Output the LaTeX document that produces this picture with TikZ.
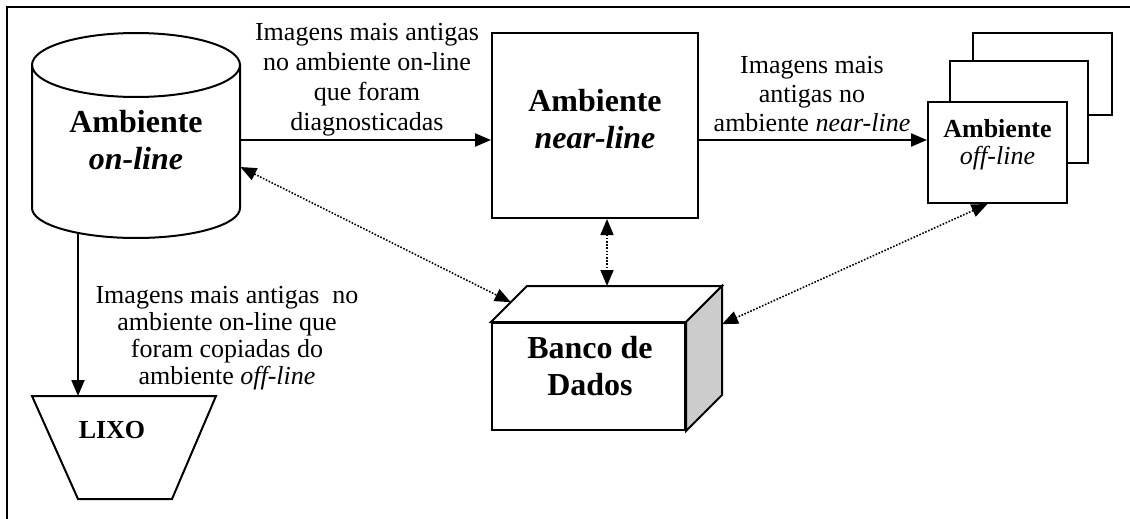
\documentclass[tikz,border=0pt]{standalone}
\usepackage{fontspec}
\setmainfont{Liberation Serif}
\usetikzlibrary{arrows.meta, positioning, calc}

\tikzset{
  box/.style={draw, line width=1pt, fill=white, inner sep=0pt},
  flow/.style={line width=1pt, -{Triangle[length=8pt,width=6.5pt]}},
  link/.style={line width=0.8pt, dash pattern=on 0.8pt off 0.8pt,
    {Triangle[length=8pt,width=6.5pt]}-{Triangle[length=8pt,width=6.5pt]}},
  note/.style={align=center, font=\fontsize{13}{14.5}\selectfont},
  big/.style={align=center, font=\fontsize{16}{18.5}\selectfont\bfseries},
}

\begin{document}
\begin{tikzpicture}[x=0.5pt, y=-0.5pt]
  \useasboundingbox (0,0) rectangle (1130,519);
  % frame
  \draw[line width=1pt] (7,519) -- (7,7) -- (1130,7);
  % on-line cylinder
  \draw[line width=1pt, fill=white] (32,65) -- (32,208)
    arc[start angle=180, end angle=360, x radius=52pt, y radius=15pt] -- (240,65);
  \draw[line width=1pt] (136,65) ellipse [x radius=52pt, y radius=16pt];
  \node[big, minimum width=104pt, inner sep=0pt] (online) at (136,140) {Ambiente\\\itshape on-line};
  \coordinate (onlinebase) at (78,233);
  % near-line
  \node[box, minimum width=103pt, minimum height=92.5pt] (nearline) at (595,125.5) {};
  \node[big] (nearlinetxt) at (595,119.5) {Ambiente\\\itshape near-line};
  % off-line stack
  \node[box, minimum width=69.5pt, minimum height=41pt] (offback) at (1042.5,74) {};
  \node[box, minimum width=69pt, minimum height=51pt] (offmid) at (1019,112) {};
  \node[box, minimum width=69.5pt, minimum height=50.5pt] (offfront) at (997.5,152.5) {};
  \node[align=center, font=\fontsize{13}{13.5}\selectfont] (offtxt) at (997.5,144.5) {\bfseries Ambiente\\\itshape off-line};
  % banco de dados
  \node[box, minimum width=96.5pt, minimum height=53.5pt] (dbfront) at (588.5,376.5) {};
  \coordinate (dbtl) at ($(dbfront.north west)+(36,-36)$);
  \coordinate (dbtr) at ($(dbfront.north east)+(36,-36)$);
  \coordinate (dbbr) at ($(dbfront.south east)+(36,-36)$);
  \draw[line width=1pt, fill=white] (dbfront.north west) -- (dbtl) -- (dbtr) -- (dbfront.north east) -- cycle;
  \draw[line width=1pt, fill=black!20] (dbfront.north east) -- (dbtr) -- (dbbr) -- (dbfront.south east) -- cycle;
  \node[big] (dbtxt) at (590,366) {Banco de\\Dados};
  % lixo
  \draw[line width=1pt] (32,396) -- (216,396) -- (172,499) -- (78,499) -- cycle;
  \node[font=\fontsize{13}{14}\selectfont\bfseries] (lixo) at (112,430) {LIXO};
  \coordinate (lixotop) at (78,396);
  % connectors
  \draw[flow] (online.east) -- (online.east -| nearline.west);
  \draw[flow] (nearline.east |- online.east) -- (offfront.west |- online.east);
  \draw[flow] (onlinebase) -- (lixotop);
  \draw[link] ([xshift=6pt]nearline.south) -- ([xshift=6pt]nearline.south |- dbtl);
  \draw[link] ([yshift=-13.5pt]online.east) -- ($(dbfront.north west)!0.55!(dbtl)$);
  \draw[link] ([xshift=-5pt]offfront.south) -- ($(dbtr)!0.35!(dbbr)$);
  % labels
  \node[note, font=\fontsize{13}{15}\selectfont] (lbl1) at (367,80) {Imagens mais antigas\\no ambiente on-line\\que foram\\diagnosticadas};
  \node[note] (lbl2) at (812,94) {Imagens mais\\antigas no\\ambiente \textit{near-line}};
  \node[note, font=\fontsize{13}{13.5}\selectfont] (lbl3) at (227,338) {Imagens mais antigas\ \ no\\ambiente on-line que\\foram copiadas do\\ambiente \textit{off-line}};
\end{tikzpicture}
\end{document}
